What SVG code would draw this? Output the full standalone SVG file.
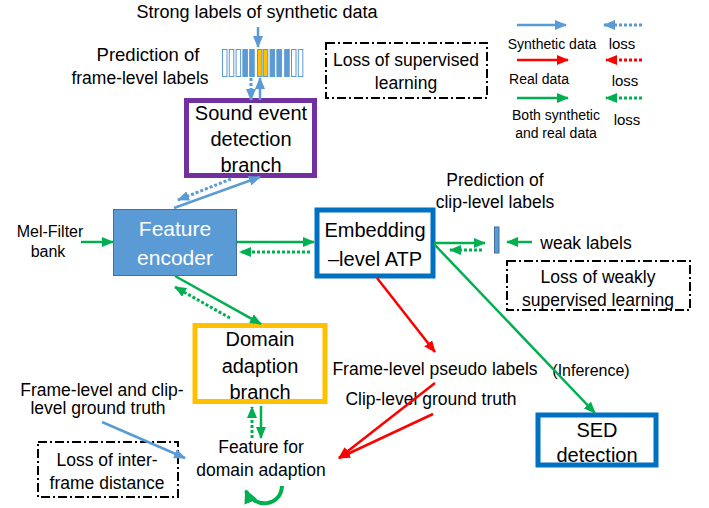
<svg xmlns="http://www.w3.org/2000/svg" width="709" height="508" viewBox="0 0 709 508">
<style>
text{font-family:"Liberation Sans",Arial,sans-serif;fill:#000;text-anchor:middle}
.t18{font-size:17.5px}
.t20{font-size:20px}
.lg{font-size:14px}
.dd{fill:none;stroke:#000;stroke-width:2;stroke-dasharray:9,3,2,3}
.sb{stroke:#5B9BD5;stroke-width:2.5;fill:none}
.sr{stroke:#FF0000;stroke-width:2.5;fill:none}
.sg{stroke:#00B050;stroke-width:2.5;fill:none}
.dot{stroke-dasharray:3,2;stroke-width:3}
</style>
<defs>
<marker id="ab" markerUnits="userSpaceOnUse" markerWidth="12" markerHeight="10" refX="11" refY="5" orient="auto"><path d="M0,0L12,5L0,10z" fill="#5B9BD5"/></marker>
<marker id="ar" markerUnits="userSpaceOnUse" markerWidth="12" markerHeight="10" refX="11" refY="5" orient="auto"><path d="M0,0L12,5L0,10z" fill="#FF0000"/></marker>
<marker id="ag" markerUnits="userSpaceOnUse" markerWidth="12" markerHeight="10" refX="11" refY="5" orient="auto"><path d="M0,0L12,5L0,10z" fill="#00B050"/></marker>
<marker id="agb" markerUnits="userSpaceOnUse" markerWidth="14" markerHeight="14" refX="12" refY="7" orient="auto"><path d="M0,0L14,7L0,14z" fill="#00B050"/></marker>
</defs>

<!-- labels / free text -->
<text class="t18" x="257" y="18" style="font-size:18px">Strong labels of synthetic data</text>
<text class="t18" x="148" y="61" style="font-size:18.5px">Prediction of</text>
<text class="t18" x="140" y="84">frame-level labels</text>
<text class="t18" x="495" y="186">Prediction of</text>
<text class="t18" x="495" y="208">clip-level labels</text>
<text class="t18" x="586" y="249">weak labels</text>
<text class="t18" x="50" y="237" style="font-size:16px">Mel-Filter</text>
<text class="t18" x="48" y="257" style="font-size:16px">bank</text>
<text class="t18" x="435" y="375">Frame-level pseudo labels</text>
<text class="t18" x="431" y="405">Clip-level ground truth</text>
<text x="591" y="376" style="font-size:16px">(Inference)</text>
<text class="t18" x="102" y="396">Frame-level and clip-</text>
<text class="t18" x="98" y="414">level ground truth</text>
<text class="t18" x="261" y="453">Feature for</text>
<text class="t18" x="261" y="476">domain adaption</text>

<!-- frame-level label bars -->
<g id="frame-bars" stroke="#5B9BD5" stroke-width="1">
<rect x="222.5" y="49.5" width="4.5" height="27" fill="#fff"/>
<rect x="229.3" y="49.5" width="4.5" height="27" fill="#fff"/>
<rect x="236.1" y="49.5" width="4.5" height="27" fill="#fff"/>
<rect x="242.9" y="49.5" width="4.5" height="27" fill="#5B9BD5"/>
<rect x="249.7" y="49.5" width="4.5" height="27" fill="#5B9BD5"/>
<rect x="257.5" y="49.5" width="4.5" height="27" fill="#FFC000"/>
<rect x="263.3" y="49.5" width="4.5" height="27" fill="#FFC000"/>
<rect x="270.1" y="49.5" width="4.5" height="27" fill="#5B9BD5"/>
<rect x="276.9" y="49.5" width="4.5" height="27" fill="#5B9BD5"/>
<rect x="284.7" y="49.5" width="4.5" height="27" fill="#5B9BD5"/>
<rect x="291.5" y="49.5" width="4.5" height="27" fill="#fff"/>
<rect x="298.3" y="49.5" width="4.5" height="27" fill="#fff"/>
</g>
<g id="clip-bar"><rect x="494.5" y="227" width="4.5" height="26" fill="#5B9BD5" stroke="#41719C" stroke-width="1"/></g>

<!-- loss boxes -->
<g id="loss-supervised"><rect class="dd" x="326" y="43" width="161" height="55"/>
<text class="t18" x="406" y="66">Loss of supervised</text><text class="t18" x="406" y="89">learning</text></g>
<g id="loss-weak"><rect class="dd" x="507" y="261" width="183" height="49"/>
<text class="t18" x="598" y="283">Loss of weakly</text><text class="t18" x="598" y="306">supervised learning</text></g>
<g id="loss-inter"><rect class="dd" x="38" y="442" width="140" height="55"/>
<text class="t18" x="107" y="466">Loss of inter-</text><text class="t18" x="107" y="489">frame distance</text></g>

<!-- nodes -->
<g id="sed-branch"><rect x="186.5" y="100.5" width="128" height="75" fill="#fff" stroke="#7030A0" stroke-width="5"/>
<text class="t20" x="251" y="120">Sound event</text><text class="t20" x="251" y="146">detection</text><text class="t20" x="251" y="172">branch</text></g>
<g id="feature-encoder"><rect x="113.5" y="209.5" width="123" height="66" fill="#5B9BD5" stroke="#41719C" stroke-width="1"/>
<text x="175" y="236" style="font-size:21px;fill:#fff">Feature</text><text x="175" y="265" style="font-size:21px;fill:#fff">encoder</text></g>
<g id="embedding"><rect x="317" y="210" width="116" height="66" fill="#fff" stroke="#0070C0" stroke-width="5"/>
<text class="t20" x="375" y="237">Embedding</text><text class="t20" x="375" y="266">–level ATP</text></g>
<g id="domain-branch"><rect x="195" y="325.5" width="130" height="76" fill="#fff" stroke="#FFC000" stroke-width="5"/>
<text class="t20" x="260" y="346">Domain</text><text class="t20" x="260" y="373">adaption</text><text class="t20" x="260" y="399">branch</text></g>
<g id="sed-detection"><rect x="538" y="415" width="118" height="50" fill="#fff" stroke="#0070C0" stroke-width="5"/>
<text class="t20" x="597" y="437">SED</text><text class="t20" x="597" y="462">detection</text></g>

<!-- connectors -->
<g id="connectors">
<line class="sb" x1="258" y1="27" x2="258" y2="47" marker-end="url(#ab)"/>
<line class="sb dot" x1="251" y1="78" x2="251" y2="100" marker-end="url(#ab)"/>
<line class="sb" x1="260" y1="100" x2="260" y2="78" marker-end="url(#ab)"/>
<line class="sb" x1="174" y1="208" x2="260" y2="177" marker-end="url(#ab)"/>
<line class="sb dot" x1="231" y1="179" x2="178" y2="200" marker-end="url(#ab)"/>
<line class="sg" x1="81" y1="242" x2="113" y2="242" marker-end="url(#ag)"/>
<line class="sg" x1="237" y1="242" x2="314" y2="242" marker-end="url(#ag)"/>
<line class="sg dot" x1="310" y1="252" x2="240" y2="252" marker-end="url(#ag)"/>
<line class="sg" x1="434" y1="243" x2="485" y2="243" marker-end="url(#ag)"/>
<line class="sg dot" x1="482" y1="250" x2="450" y2="250" marker-end="url(#ag)"/>
<line class="sg" x1="532" y1="242" x2="507" y2="242" marker-end="url(#ag)"/>
<line class="sg" x1="434" y1="244" x2="595" y2="413" marker-end="url(#ag)"/>
<line class="sr" x1="377" y1="278" x2="435" y2="352" marker-end="url(#ar)"/>
<line class="sr" x1="435" y1="383" x2="339" y2="458" marker-end="url(#ar)"/>
<line class="sr" x1="433" y1="414" x2="339" y2="458" marker-end="url(#ar)"/>
<line class="sg" x1="175" y1="276" x2="261" y2="324" marker-end="url(#ag)"/>
<line class="sg dot" x1="230" y1="318" x2="175" y2="287" marker-end="url(#ag)"/>
<line class="sg" x1="261" y1="406" x2="261" y2="438" marker-end="url(#ag)"/>
<line class="sg dot" x1="252" y1="438" x2="252" y2="407" marker-end="url(#ag)"/>
<line class="sb" x1="102" y1="422" x2="185" y2="458" marker-end="url(#ab)"/>
<path d="M282,486 C281,507 254,509 246,491" stroke="#00B050" stroke-width="4" fill="none" marker-end="url(#agb)"/>
</g>

<!-- legend -->
<g id="legend">
<line class="sb" x1="517" y1="25" x2="566" y2="25" marker-end="url(#ab)"/>
<line class="sb dot" x1="642" y1="25" x2="604" y2="25" marker-end="url(#ab)"/>
<text class="lg" x="552" y="49">Synthetic data</text><text class="lg" x="622" y="49" style="font-size:15px">loss</text>
<line class="sr" x1="517" y1="60" x2="568" y2="60" marker-end="url(#ar)"/>
<line class="sr dot" x1="642" y1="60" x2="606" y2="60" marker-end="url(#ar)"/>
<text class="lg" x="539" y="84">Real data</text><text class="lg" x="625" y="86" style="font-size:15px">loss</text>
<line class="sg" x1="517" y1="98" x2="568" y2="98" marker-end="url(#ag)"/>
<line class="sg dot" x1="642" y1="98" x2="606" y2="98" marker-end="url(#ag)"/>
<text class="lg" x="556" y="120">Both synthetic</text><text class="lg" x="556" y="138">and real data</text><text class="lg" x="627" y="125" style="font-size:15px">loss</text>
</g>
</svg>
